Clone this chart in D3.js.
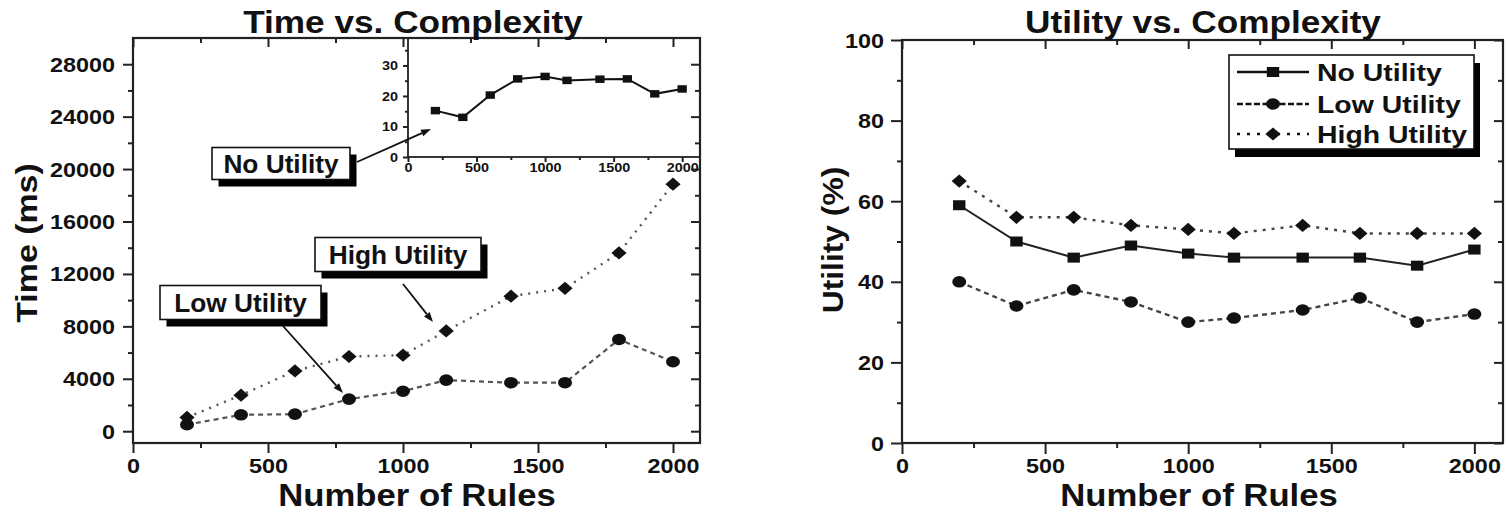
<!DOCTYPE html>
<html><head><meta charset="utf-8">
<script src="https://cdn.jsdelivr.net/npm/d3@7"></script>
<style>
body{margin:0;background:#fff}
svg{display:block}
text{font-family:"Liberation Sans",Arial,sans-serif;font-weight:bold;fill:#111}
</style>
</head><body>
<svg id="c" width="1508" height="513"></svg>
<script>
// ---------------- data ----------------
const rules = [200, 400, 600, 800, 1000, 1160, 1400, 1600, 1800, 2000];
const timeNoUtility   = [15.2, 13.0, 20.3, 25.6, 26.4, 25.1, 25.5, 25.6, 20.7, 22.3];
const timeLowUtility  = [500, 1250, 1300, 2450, 3050, 3900, 3700, 3700, 7000, 5300];
const timeHighUtility = [1050, 2750, 4600, 5700, 5800, 7650, 10300, 10900, 13600, 18850];
const utilNoUtility   = [59, 50, 46, 49, 47, 46, 46, 46, 44, 48];
const utilLowUtility  = [40, 34, 38, 35, 30, 31, 33, 36, 30, 32];
const utilHighUtility = [65, 56, 56, 54, 53, 52, 54, 52, 52, 52];
const seriesNames = ["No Utility", "Low Utility", "High Utility"];
const xTicks = [0, 500, 1000, 1500, 2000];
const xMinor = [250, 750, 1250, 1750];
const timeTicks = [0, 4000, 8000, 12000, 16000, 20000, 24000, 28000];
const timeMinor = [2000, 6000, 10000, 14000, 18000, 22000, 26000];
const insetTicks = [0, 10, 20, 30];
const insetMinor = [5, 15, 25, 35];
const utilTicks = [0, 20, 40, 60, 80, 100];
const utilMinor = [10, 30, 50, 70, 90];
const titles = ["Time vs. Complexity", "Utility vs. Complexity"];
const xTitle = "Number of Rules";
const yTitles = ["Time (ms)", "Utility (%)"];

// ---------------- layout ----------------
const svg = d3.select("#c");
const INK = "#222";
const fmt = d3.format("d");
const xL = d3.scaleLinear([0, 2100], [133, 700]);
const yL = d3.scaleLinear([-900, 30000], [443, 38]);
const xR = d3.scaleLinear([0, 2100], [902, 1503]);
const yR = d3.scaleLinear([0, 100], [443, 40]);
const xI = d3.scaleLinear([0, 2130], [408, 700]);
const yI = d3.scaleLinear([0, 39], [157, 38]);

function styleTicks(g, w) {
  g.select(".domain").remove();
  g.attr("font-family", null).attr("font-size", null);
  g.selectAll("line").attr("stroke", INK).attr("stroke-width", w);
}
function styleLabels(g, fs, S, dx, dy, anchor) {
  g.selectAll("text")
    .attr("x", null).attr("y", null).attr("dy", null)
    .attr("text-anchor", anchor)
    .style("font-size", fs + "px")
    .attr("transform", `translate(${dx},${dy}) scale(${S},1)`);
}

function frameAxes(x, y, xMaj, xMin, yMaj, yMin, o) {
  const [x0, x1] = x.range();
  const yb = y.range()[0], yt = y.range()[1];
  const g = svg.append("g");
  let a = g.append("g").attr("transform", `translate(0,${yb})`)
    .call(d3.axisBottom(x).tickValues(xMaj).tickFormat(fmt).tickSize(o.maj).tickSizeOuter(0));
  styleTicks(a, 2); styleLabels(a, o.fs, o.S, 0, o.xdy, "middle");
  a = g.append("g").attr("transform", `translate(0,${yb})`)
    .call(d3.axisBottom(x).tickValues(xMin).tickSize(o.min).tickFormat(""));
  styleTicks(a, 2);
  a = g.append("g").attr("transform", `translate(${x0},0)`)
    .call(d3.axisLeft(y).tickValues(yMaj).tickFormat(fmt).tickSize(o.maj).tickSizeOuter(0));
  styleTicks(a, 2); styleLabels(a, o.fs, o.S, o.ydx, o.ydy, "end");
  a = g.append("g").attr("transform", `translate(${x0},0)`)
    .call(d3.axisLeft(y).tickValues(yMin).tickSize(o.min).tickFormat(""));
  styleTicks(a, 2);
  if (o.mirror) {
    a = g.append("g").attr("transform", `translate(0,${yt})`)
      .call(d3.axisTop(x).tickValues(xMaj).tickSize(-o.imaj).tickFormat(""));
    styleTicks(a, 2);
    a = g.append("g").attr("transform", `translate(0,${yt})`)
      .call(d3.axisTop(x).tickValues(xMin).tickSize(-o.imin).tickFormat(""));
    styleTicks(a, 2);
    a = g.append("g").attr("transform", `translate(${x1},0)`)
      .call(d3.axisRight(y).tickValues(yMaj).tickSize(-o.imaj).tickFormat(""));
    styleTicks(a, 2);
    a = g.append("g").attr("transform", `translate(${x1},0)`)
      .call(d3.axisRight(y).tickValues(yMin).tickSize(-o.imin).tickFormat(""));
    styleTicks(a, 2);
  }
  g.append("rect").attr("x", x0).attr("y", yt).attr("width", x1 - x0).attr("height", yb - yt)
    .attr("fill", "none").attr("stroke", INK).attr("stroke-width", o.frameW || 2.2);
  return g;
}

function shape(type, cx, cy, k) {
  if (type === "square") {
    const w = 6.2 * k, h = 5 * k;
    return `M${cx - w},${cy - h}H${cx + w}V${cy + h}H${cx - w}Z`;
  }
  if (type === "circle") {
    const rx = 7 * k, ry = 5.8 * k;
    return `M${cx - rx},${cy}A${rx},${ry} 0 1,0 ${cx + rx},${cy}A${rx},${ry} 0 1,0 ${cx - rx},${cy}Z`;
  }
  const w = 7.6 * k, h = 6.6 * k;
  return `M${cx - w},${cy}L${cx},${cy - h}L${cx + w},${cy}L${cx},${cy + h}Z`;
}

function series(x, y, vals, type, dash, lw, color, k) {
  const pts = d3.zip(rules, vals);
  const g = svg.append("g");
  g.append("path").datum(pts)
    .attr("d", d3.line().x(d => x(d[0])).y(d => y(d[1])))
    .attr("fill", "none").attr("stroke", color).attr("stroke-width", lw)
    .attr("stroke-dasharray", dash);
  g.selectAll("path.m").data(pts).join("path").attr("class", "m")
    .attr("d", d => shape(type, x(d[0]), y(d[1]), k))
    .attr("fill", "#111");
}

function txt(str, x, y, fs, S, anchor, rot) {
  return svg.append("text").text(str)
    .attr("text-anchor", anchor || "middle")
    .style("font-size", fs + "px")
    .attr("transform", `translate(${x},${y})${rot ? " rotate(" + rot + ")" : ""} scale(${S},1)`);
}

function arrow(x1, y1, x2, y2) {
  const ang = Math.atan2(y2 - y1, x2 - x1), L = 10, W = 3.6;
  const bx = x2 - L * Math.cos(ang), by = y2 - L * Math.sin(ang);
  svg.append("line").attr("x1", x1).attr("y1", y1).attr("x2", bx).attr("y2", by)
    .attr("stroke", "#111").attr("stroke-width", 1.8);
  const px = -Math.sin(ang) * W, py = Math.cos(ang) * W;
  svg.append("path").attr("d", `M${x2},${y2}L${bx + px},${by + py}L${bx - px},${by - py}Z`).attr("fill", "#111");
}

function labelBox(str, x0, y0, w, h, base) {
  svg.append("rect").attr("x", x0 + 6.5).attr("y", y0 + 7).attr("width", w).attr("height", h).attr("fill", "#000");
  svg.append("rect").attr("x", x0).attr("y", y0).attr("width", w).attr("height", h)
    .attr("fill", "#fff").attr("stroke", "#111").attr("stroke-width", 1.6);
  txt(str, x0 + w / 2, base, 25, 1.05, "middle");
}

// ---------------- left chart ----------------
series(xL, yL, timeLowUtility, "circle", "5,4", 2.2, "#555", 1);
series(xL, yL, timeHighUtility, "diamond", "2,6", 2.4, "#555", 1);

// inset
svg.append("rect").attr("x", xI.range()[0]).attr("y", yI.range()[1])
  .attr("width", xI.range()[1] - xI.range()[0]).attr("height", yI.range()[0] - yI.range()[1])
  .attr("fill", "#fff");
frameAxes(xI, yI, xTicks, xMinor, insetTicks, insetMinor,
  {maj: 5, min: 3, fs: 12, S: 1.2, xdy: 15, ydx: -10, ydy: 4.5, mirror: false, frameW: 1.8});
series(xI, yI, timeNoUtility, "square", null, 2, "#111", 0.75);

frameAxes(xL, yL, xTicks, xMinor, timeTicks, timeMinor,
  {maj: 10, min: 5, imaj: 9, imin: 5, fs: 19.5, S: 1.2, xdy: 30, ydx: -18, ydy: 7, mirror: true});

txt(titles[0], 413, 33, 32, 1.1, "middle");
txt(xTitle, 417, 506, 31, 1.12, "middle");
txt(yTitles[0], 37, 243, 30, 1.13, "middle", -90);

labelBox(seriesNames[0], 212, 147.5, 138, 32, 173);
arrow(357, 162, 431, 129);
labelBox(seriesNames[2], 315, 237.5, 166, 34, 264);
arrow(403, 284, 433, 322);
labelBox(seriesNames[1], 160, 285.5, 161, 34, 312);
arrow(283, 326, 343, 393);

// ---------------- right chart ----------------
series(xR, yR, utilHighUtility, "diamond", "3,6", 2.4, "#444", 1);
series(xR, yR, utilNoUtility, "square", null, 2, "#222", 1);
series(xR, yR, utilLowUtility, "circle", "5,4", 2.4, "#444", 1);

frameAxes(xR, yR, xTicks, xMinor, utilTicks, utilMinor,
  {maj: 11, min: 5, imaj: 9, imin: 5, fs: 19.5, S: 1.2, xdy: 30, ydx: -18, ydy: 7, mirror: true});

txt(titles[1], 1203, 33, 32, 1.1, "middle");
txt(xTitle, 1199, 506, 31, 1.12, "middle");
txt(yTitles[1], 843, 240, 30, 1.06, "middle", -90);

// legend
const lg = {x0: 1229, y0: 55, w: 245, h: 94};
svg.append("rect").attr("x", lg.x0 + 6).attr("y", lg.y0 + 8).attr("width", lg.w).attr("height", lg.h).attr("fill", "#000");
svg.append("rect").attr("x", lg.x0).attr("y", lg.y0).attr("width", lg.w).attr("height", lg.h)
  .attr("fill", "#fff").attr("stroke", "#111").attr("stroke-width", 1.6);
const legendRows = [
  {name: seriesNames[0], type: "square", dash: null, y: 72},
  {name: seriesNames[1], type: "circle", dash: "6,2.5", y: 104},
  {name: seriesNames[2], type: "diamond", dash: "3,7", y: 134}
];
legendRows.forEach(r => {
  svg.append("line").attr("x1", 1237).attr("x2", 1309).attr("y1", r.y).attr("y2", r.y)
    .attr("stroke", "#111").attr("stroke-width", 2.4).attr("stroke-dasharray", r.dash);
  svg.append("path").attr("d", shape(r.type, 1273, r.y, 1)).attr("fill", "#111");
  txt(r.name, 1317, r.y + 8.5, 23.5, 1.21, "start");
});
</script>
</body></html>
